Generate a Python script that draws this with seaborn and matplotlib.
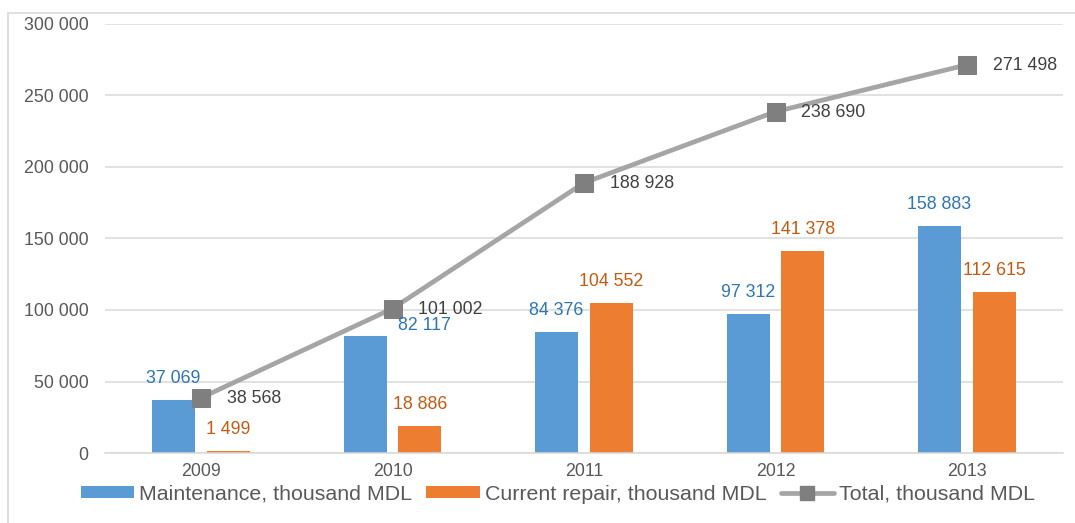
import numpy as np
import pandas as pd
import matplotlib
matplotlib.use("Agg")
import matplotlib.pyplot as plt
from matplotlib.patches import Patch, Rectangle
from matplotlib.lines import Line2D
from matplotlib.ticker import FuncFormatter, MultipleLocator
import seaborn as sns

years = ["2009", "2010", "2011", "2012", "2013"]
maintenance = [37069, 82117, 84376, 97312, 158883]
current_repair = [1499, 18886, 104552, 141378, 112615]
total = [38568, 101002, 188928, 238690, 271498]
series_names = ["Maintenance, thousand MDL", "Current repair, thousand MDL", "Total, thousand MDL"]

BLUE = "#5B9BD5"
ORANGE = "#ED7D31"
BLUE_TXT = "#2E75B6"
ORANGE_TXT = "#C55A11"
GREY_LINE = "#A5A5A5"
GREY_MARK = "#7F7F7F"
TXT = "#595959"
GRID = "#D9D9D9"

sns.set_theme(style="white")
plt.rcParams["font.family"] = ["Liberation Sans", "DejaVu Sans"]

df = pd.DataFrame({
    "year": years * 2,
    "value": maintenance + current_repair,
    "series": [series_names[0]] * len(years) + [series_names[1]] * len(years),
})

fig = plt.figure(figsize=(10.75, 5.23), dpi=100)
ax = fig.add_axes([105.25 / 1075, 1 - 453 / 523, (1062.75 - 105.25) / 1075, (453 - 24) / 523])

sns.barplot(data=df, x="year", y="value", hue="series", hue_order=series_names[:2],
            palette=[BLUE, ORANGE], saturation=1, width=0.574, gap=0.218, linewidth=0,
            legend=False, ax=ax, zorder=2)

sns.lineplot(x=np.arange(len(years)), y=total, ax=ax, color=GREY_LINE, linewidth=3.4,
             marker="s", markersize=12.5, markerfacecolor=GREY_MARK, markeredgecolor=GREY_MARK,
             zorder=4, legend=False)

ax.set_xlim(-0.5, len(years) - 0.5)
ax.set_ylim(0, 300000)
ax.yaxis.set_major_locator(MultipleLocator(50000))
fmt = lambda v: f"{int(v):,}".replace(",", " ")
ax.yaxis.set_major_formatter(FuncFormatter(lambda v, p: fmt(v)))
ax.grid(axis="y", color=GRID, linewidth=1.1, zorder=0)
ax.set_axisbelow(True)
for s in ["left", "right", "top"]:
    ax.spines[s].set_visible(False)
ax.spines["bottom"].set_color(GRID)
ax.spines["bottom"].set_linewidth(1.1)
ax.tick_params(axis="y", length=0, pad=12, labelsize=12.8, labelcolor=TXT)
ax.tick_params(axis="x", length=0, pad=7, labelsize=12.8, labelcolor=TXT)
ax.set_xlabel("")
ax.set_ylabel("")

# data labels
label_offsets_blue = {1: (42.5, 7)}
for i, bar in enumerate(ax.containers[0]):
    x = bar.get_x() + bar.get_width() / 2
    h = bar.get_height()
    off = label_offsets_blue.get(i, (0, 15.5))
    ax.annotate(fmt(maintenance[i]), (x, h), xytext=off, textcoords="offset points",
                ha="center", va="center", color=BLUE_TXT, fontsize=12.8, zorder=5)
for i, bar in enumerate(ax.containers[1]):
    x = bar.get_x() + bar.get_width() / 2
    h = bar.get_height()
    ax.annotate(fmt(current_repair[i]), (x, h), xytext=(0, 15.5), textcoords="offset points",
                ha="center", va="center", color=ORANGE_TXT, fontsize=12.8, zorder=5)
for i, v in enumerate(total):
    ax.annotate(fmt(v), (i, v), xytext=(18.5, -0.5), textcoords="offset points",
                ha="left", va="center", color="#404040", fontsize=12.8, zorder=5)

handles = [
    Patch(facecolor=BLUE, edgecolor="none"),
    Patch(facecolor=ORANGE, edgecolor="none"),
    Line2D([], [], color=GREY_LINE, linewidth=3.4, marker="s", markersize=10,
           markerfacecolor=GREY_MARK, markeredgecolor=GREY_MARK),
]
fig.legend(handles, series_names, loc="center", bbox_to_anchor=(558 / 1075, 1 - 494 / 523),
           ncol=3, frameon=False, fontsize=15.4, labelcolor=TXT, handlelength=2.5,
           handleheight=0.5, handletextpad=0.25, columnspacing=0.65, borderpad=0)

fig.add_artist(Rectangle((8 / 1075, -0.2), 1.2, 1 - 13 / 523 + 0.2, transform=fig.transFigure,
                         fill=False, edgecolor=GRID, linewidth=1.2))

fig.savefig("out.png", dpi=100)
